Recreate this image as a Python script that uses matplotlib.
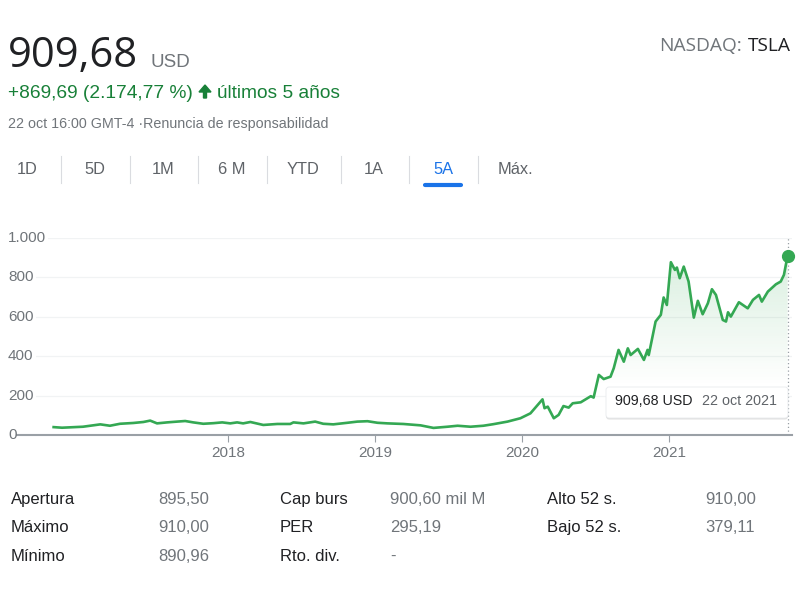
import matplotlib

matplotlib.use("Agg")

import matplotlib.dates as mdates
import matplotlib.pyplot as plt
import numpy as np
import pandas as pd
from matplotlib import transforms
from matplotlib.colors import to_rgb
from matplotlib.patches import FancyArrow, FancyBboxPatch

# weekly-ish closes (USD)
DATES = [
    "2016-10-24", "2016-11-14", "2017-01-05", "2017-02-17", "2017-03-13", "2017-04-07",
    "2017-05-10", "2017-06-04", "2017-06-21", "2017-07-08", "2017-08-02", "2017-08-27",
    "2017-09-16", "2017-10-06", "2017-10-31", "2017-11-25", "2017-12-17", "2018-01-06",
    "2018-01-23", "2018-02-07", "2018-02-25", "2018-03-29", "2018-05-03", "2018-06-04",
    "2018-06-12", "2018-07-07", "2018-08-05", "2018-08-25", "2018-09-19", "2018-10-24",
    "2018-11-18", "2018-12-13", "2019-01-07", "2019-02-01", "2019-03-12", "2019-04-24",
    "2019-05-26", "2019-06-30", "2019-07-25", "2019-08-26", "2019-09-27", "2019-10-22",
    "2019-11-26", "2019-12-28", "2020-01-22", "2020-02-21", "2020-02-26", "2020-03-05",
    "2020-03-20", "2020-04-01", "2020-04-13", "2020-04-26", "2020-05-06", "2020-05-26",
    "2020-06-20", "2020-06-27", "2020-07-10", "2020-07-22", "2020-08-08", "2020-08-16",
    "2020-08-28", "2020-09-10", "2020-09-20", "2020-09-27", "2020-10-15", "2020-10-30",
    "2020-11-08", "2020-11-11", "2020-11-28", "2020-12-11", "2020-12-18", "2020-12-26",
    "2021-01-05", "2021-01-15", "2021-01-20", "2021-01-27", "2021-02-06", "2021-02-18",
    "2021-03-03", "2021-03-13", "2021-03-25", "2021-04-07", "2021-04-17", "2021-04-27",
    "2021-05-14", "2021-05-22", "2021-05-27", "2021-06-03", "2021-06-23", "2021-07-15",
    "2021-07-28", "2021-08-12", "2021-08-19", "2021-09-03", "2021-09-23", "2021-10-05",
    "2021-10-13", "2021-10-22",
]
PRICES = [
    39.99, 37, 42, 54, 47, 57,
    61, 66, 73, 59, 64, 68,
    71, 64, 57, 60, 64, 59,
    64, 59, 66, 51, 56, 56,
    64, 59, 68, 57, 54, 62,
    68, 70, 62, 59, 56, 49,
    36, 42, 47, 42, 47, 55,
    68, 85, 110, 181, 136, 144,
    85, 102, 147, 139, 161, 166,
    197, 190, 305, 284, 296, 339,
    432, 372, 440, 406, 437, 381,
    432, 406, 576, 610, 698, 660,
    877, 838, 850, 796, 855, 779,
    596, 681, 613, 669, 740, 711,
    584, 576, 623, 601, 674, 643,
    686, 711, 677, 728, 765, 779,
    813, 909.68,
]

Y_TICKS = [0, 200, 400, 600, 800, 1000]
X_TICK_YEARS = [2018, 2019, 2020, 2021]

PRICE_TEXT = "909,68"
CURRENCY = "USD"
CHANGE_TEXT = "+869,69 (2.174,77 %)"
PERIOD_TEXT = "últimos 5 años"
TIMESTAMP_TEXT = "22 oct 16:00 GMT-4 ·Renuncia de responsabilidad"
EXCHANGE = "NASDAQ:"
TICKER = "TSLA"
TOOLTIP_PRICE = "909,68 USD"
TOOLTIP_DATE = "22 oct 2021"

TABS = ["1D", "5D", "1M", "6 M", "YTD", "1A", "5A", "Máx."]
ACTIVE_TAB = "5A"

STAT_LABELS = [
    ["Apertura", "Máximo", "Mínimo"],
    ["Cap burs", "PER", "Rto. div."],
    ["Alto 52 s.", "Bajo 52 s."],
]
STAT_VALUES = [
    ["895,50", "910,00", "890,96"],
    ["900,60 mil M", "295,19", "-"],
    ["910,00", "379,11"],
]

# layout (pixels of the 800x600 output)
W, H = 800, 600
TAB_CENTERS = [27, 95, 163, 232, 303, 374, 443, 515]
TAB_SEPARATORS = [61, 130, 198, 267, 341, 409, 478]
STAT_LABEL_X = [11, 280, 547]
STAT_VALUE_X = [158, 390, 705]
STAT_ROW_Y = [504, 532, 561]
AX_LEFT, AX_RIGHT, AX_TOP, AX_BOTTOM = 17, 792, 238, 435
X_LIMITS = ("2016-07-25", "2021-11-02")

GREEN = "#34a853"
TEXT_GREEN = "#188038"
DARK = "#202124"
GREY = "#70757a"
BLUE = "#1a73e8"


def fx(x: float) -> float:
    return x / W


def fy(y: float) -> float:
    return 1 - y / H


def draw_header(fig: plt.Figure) -> None:
    fig.text(fx(8), fy(67), PRICE_TEXT, fontsize=30, color=DARK,
             family=["Open Sans", "DejaVu Sans"], va="baseline")
    fig.text(fx(150), fy(67), CURRENCY, fontsize=13.5, color=GREY, va="baseline")
    fig.text(fx(8), fy(97.5), CHANGE_TEXT, fontsize=13.8, color=TEXT_GREEN, va="baseline")
    fig.add_artist(FancyArrow(205, H - 98, 0, 13, width=3, head_width=12, head_length=7,
                              length_includes_head=True, color=TEXT_GREEN,
                              transform=transforms.IdentityTransform()))
    fig.text(fx(217), fy(97.5), PERIOD_TEXT, fontsize=13.8, color=TEXT_GREEN, va="baseline")
    fig.text(fx(8), fy(128.5), TIMESTAMP_TEXT, fontsize=10.3, color=GREY, va="baseline")

    fig.text(fx(791), fy(51), TICKER, fontsize=13.8, color=DARK, ha="right",
             family=["Open Sans", "DejaVu Sans"], va="baseline")
    fig.text(fx(742), fy(51), EXCHANGE, fontsize=13.8, color=GREY, ha="right",
             family=["Open Sans", "DejaVu Sans"], va="baseline")


def draw_tabs(fig: plt.Figure) -> None:
    for label, cx in zip(TABS, TAB_CENTERS):
        color = BLUE if label == ACTIVE_TAB else "#5f6368"
        fig.text(fx(cx), fy(174.5), label, fontsize=11.8, color=color, ha="center", va="baseline")
        if label == ACTIVE_TAB:
            fig.add_artist(plt.Line2D([fx(cx - 18), fx(cx + 18)], [fy(185.5), fy(185.5)],
                                      color=BLUE, lw=3, solid_capstyle="round"))
    for sx in TAB_SEPARATORS:
        fig.add_artist(plt.Line2D([fx(sx), fx(sx)], [fy(156), fy(183)], color="#dadce0", lw=0.8))


def draw_stats(fig: plt.Figure) -> None:
    for col, (labels, values) in enumerate(zip(STAT_LABELS, STAT_VALUES)):
        for row, (label, value) in enumerate(zip(labels, values)):
            fig.text(fx(STAT_LABEL_X[col]), fy(STAT_ROW_Y[row]), label, fontsize=12,
                     color=DARK, va="baseline")
            fig.text(fx(STAT_VALUE_X[col]), fy(STAT_ROW_Y[row]), value, fontsize=12,
                     color=GREY, va="baseline")


def draw_chart(fig: plt.Figure) -> None:
    dates = pd.to_datetime(DATES)
    prices = np.array(PRICES)

    ax = fig.add_axes([fx(AX_LEFT), fy(AX_BOTTOM), (AX_RIGHT - AX_LEFT) / W,
                       (AX_BOTTOM - AX_TOP) / H])
    xlim = pd.to_datetime(list(X_LIMITS))
    ax.set_xlim(xlim[0], xlim[1])
    ax.set_ylim(0, 1000)

    for v in Y_TICKS[1:]:
        ax.axhline(v, color="#f1f3f4", lw=0.9, zorder=0)

    ax.plot(dates, prices, color=GREEN, lw=1.9, zorder=3, solid_joinstyle="round")

    # gradient fill under the line
    poly = ax.fill_between(dates, prices, 0, color="none")
    levels = np.linspace(0, 1000, 256)
    grad = np.zeros((256, 1, 4))
    grad[..., :3] = to_rgb(GREEN)
    grad[:, 0, 3] = 0.18 * np.clip((levels - 250) / 650, 0, 1)
    x0, x1 = mdates.date2num(xlim[0]), mdates.date2num(xlim[1])
    im = ax.imshow(grad, extent=[x0, x1, 0, 1000], origin="lower", aspect="auto", zorder=1)
    im.set_clip_path(poly.get_paths()[0], transform=ax.transData)
    ax.set_xlim(xlim[0], xlim[1])
    ax.set_ylim(0, 1000)

    ax.axvline(dates[-1], color="#9aa0a6", lw=0.9, ls=(0, (1, 2)), zorder=2)
    ax.plot(dates[-1], prices[-1], "o", ms=8.5, color=GREEN, zorder=4, clip_on=False)

    for side in ["top", "right", "left"]:
        ax.spines[side].set_visible(False)
    ax.spines["bottom"].set_color("#9aa0a6")
    ax.spines["bottom"].set_linewidth(1.5)

    ax.set_xticks(pd.to_datetime([f"{y}-01-01" for y in X_TICK_YEARS]))
    ax.set_xticklabels([str(y) for y in X_TICK_YEARS])
    ax.tick_params(axis="x", direction="out", length=5, width=0.8, color="#9aa0a6",
                   labelsize=11, labelcolor=GREY, pad=3)
    ax.set_yticks([])

    trans = transforms.blended_transform_factory(fig.transFigure, ax.transData)
    for v in Y_TICKS:
        label = f"{v:,}".replace(",", ".")
        bbox = None if v == 0 else dict(facecolor="white", edgecolor="none", pad=1.5)
        ax.text(fx(8), v, label, transform=trans, fontsize=11, color=GREY,
                ha="left", va="center", bbox=bbox, zorder=5, clip_on=False)


def draw_tooltip(fig: plt.Figure) -> None:
    ident = transforms.IdentityTransform()
    x0, y0, w, h = 606, H - 418, 182, 31
    shadow = FancyBboxPatch((x0, y0 - 1.5), w, h, boxstyle="round,pad=0,rounding_size=3",
                            facecolor="#000000", alpha=0.12, edgecolor="none",
                            transform=ident, zorder=5)
    box = FancyBboxPatch((x0, y0), w, h, boxstyle="round,pad=0,rounding_size=3",
                         facecolor="white", edgecolor="#e8eaed", lw=0.6,
                         transform=ident, zorder=6)
    fig.add_artist(shadow)
    fig.add_artist(box)
    fig.text(fx(615), fy(401), TOOLTIP_PRICE, fontsize=10.3, color=DARK, va="center", zorder=7)
    fig.text(fx(702), fy(401), TOOLTIP_DATE, fontsize=10.3, color="#5f6368", va="center", zorder=7)


def main() -> None:
    plt.rcParams["font.family"] = ["Liberation Sans", "DejaVu Sans"]
    fig = plt.figure(figsize=(8, 6), dpi=100)
    fig.patch.set_facecolor("white")

    draw_header(fig)
    draw_tabs(fig)
    draw_chart(fig)
    draw_tooltip(fig)
    draw_stats(fig)

    fig.savefig("out.png", dpi=100)


if __name__ == "__main__":
    main()
